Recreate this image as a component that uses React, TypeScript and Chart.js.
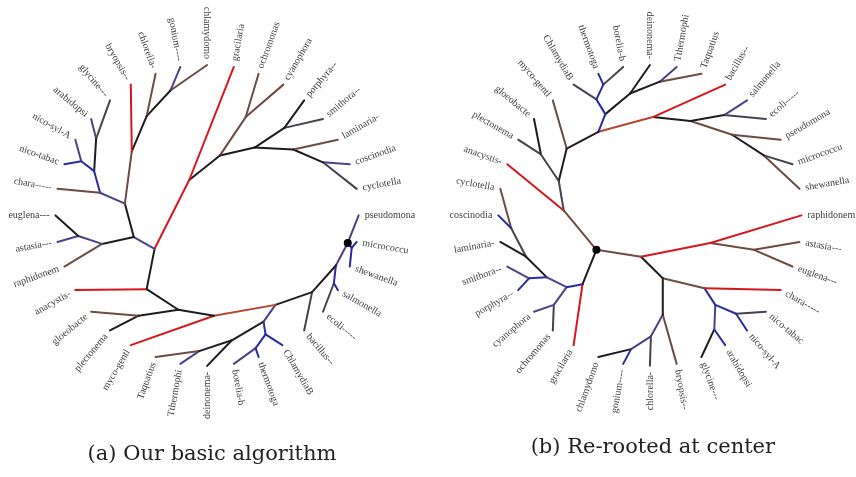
import React, { useEffect, useRef } from 'react';
import { Chart, registerables } from 'chart.js';
Chart.register(...registerables);

// ---------- Panel (a): leaves (label, x, y) in page units ----------
const centerA: [number, number] = [205, 215];
const leavesA: [string, number, number][] = [
  ['pseudomona', 358, 215], ['micrococcu', 356, 242], ['shewanella', 349, 267],
  ['salmonella', 337, 291], ['ecoli-----', 322, 313], ['bacillus--', 303, 332],
  ['ChlamydiaB', 281, 347], ['thermotoga', 257, 359], ['borelia-b', 232, 366],
  ['deinonema-', 205, 368], ['Tthermophi', 178, 366], ['Taquatius', 153, 359],
  ['myco-gentl', 128, 347], ['plectonema', 107, 332], ['gloeobacte', 88, 313],
  ['anacystis-', 72, 291], ['raphidonem', 61, 267], ['astasia---', 54, 242],
  ['euglena---', 52, 215], ['chara-----', 54, 188], ['nico-tabac', 61, 163],
  ['nico-syl-A', 72, 138], ['arabidopsi', 88, 117], ['glycine---', 107, 98],
  ['bryopsis--', 128, 82], ['chlorella-', 153, 71], ['gonium----', 178, 64],
  ['chlamydomo', 205, 62], ['gracilaria', 232, 64], ['ochromonas', 257, 71],
  ['cyanophora', 282, 82], ['porphyra--', 303, 98], ['smithora--', 322, 117],
  ['laminaria-', 337, 138], ['coscinodia', 349, 163], ['cyclotella', 356, 188],
];
const nodesA: Record<string, [number, number]> = {
  a1: [129, 150], a2: [144, 114], a3: [168, 88], a4: [122, 203], a5: [97, 192],
  a6: [91, 170], a7: [93, 137], a8: [78, 160], a9: [75, 236], a10: [99, 244],
  a11: [131, 237], a12: [152, 249], a13: [187, 179], a14: [218, 154], a15: [244, 115],
  a16: [253, 146], a17: [283, 126], a18: [292, 148], a19: [322, 161], a20: [144, 290],
  a21: [176, 311], a22: [136, 317], a23: [212, 317], a24: [274, 306], a25: [311, 293],
  a26: [335, 266], a27: [333, 284], a28: [347, 243], a29: [351, 248], a30: [262, 323],
  a31: [230, 342], a32: [197, 353], a33: [264, 336], a34: [254, 350],
};
const dotA = 'a28';
const edgesA: [string, string, string][] = [
  ['a1', 'bryopsis--', 'R'], ['a1', 'a4', 'Br'], ['a1', 'a2', 'K'], ['a2', 'chlorella-', 'Br'],
  ['a2', 'a3', 'K'], ['a3', 'gonium----', 'P'], ['a3', 'chlamydomo', 'Br'], ['a4', 'a5', 'P'],
  ['a4', 'a11', 'K'], ['a5', 'chara-----', 'Br'], ['a5', 'a6', 'U'], ['a6', 'a8', 'U'],
  ['a6', 'a7', 'K'], ['a7', 'arabidopsi', 'P'], ['a7', 'glycine---', 'G'], ['a8', 'nico-syl-A', 'P'],
  ['a8', 'nico-tabac', 'U'], ['a9', 'euglena---', 'K'], ['a9', 'astasia---', 'P'], ['a10', 'a9', 'P'],
  ['a10', 'raphidonem', 'Br'], ['a10', 'a11', 'K'], ['a11', 'a12', 'P'], ['a12', 'a13', 'R'],
  ['a13', 'gracilaria', 'R'], ['a13', 'a14', 'K'], ['a14', 'a15', 'Br'], ['a15', 'ochromonas', 'Br'],
  ['a15', 'cyanophora', 'Br'], ['a14', 'a16', 'K'], ['a16', 'a17', 'K'], ['a17', 'porphyra--', 'K'],
  ['a17', 'smithora--', 'G'], ['a16', 'a18', 'K'], ['a18', 'laminaria-', 'Br'], ['a18', 'a19', 'K'],
  ['a19', 'coscinodia', 'P'], ['a19', 'cyclotella', 'G'], ['a12', 'a20', 'K'], ['a20', 'anacystis-', 'R'],
  ['a20', 'a21', 'K'], ['a21', 'a22', 'K'], ['a22', 'gloeobacte', 'Br'], ['a22', 'plectonema', 'K'],
  ['a21', 'a23', 'K'], ['a23', 'myco-gentl', 'R'], ['a23', 'a24', 'RB'], ['a24', 'a25', 'K'],
  ['a25', 'bacillus--', 'G'], ['a25', 'a26', 'K'], ['a26', 'a27', 'U'], ['a27', 'salmonella', 'U'],
  ['a27', 'ecoli-----', 'G'], ['a26', 'a28', 'P'], ['a28', 'pseudomona', 'P'], ['a28', 'a29', 'U'],
  ['a29', 'micrococcu', 'U'], ['a29', 'shewanella', 'U'], ['a24', 'a30', 'P'], ['a30', 'a31', 'K'],
  ['a31', 'deinonema-', 'K'], ['a31', 'a32', 'K'], ['a32', 'Taquatius', 'Br'], ['a32', 'Tthermophi', 'P'],
  ['a30', 'a33', 'U'], ['a33', 'a34', 'U'], ['a33', 'ChlamydiaB', 'U'], ['a34', 'borelia-b', 'P'],
  ['a34', 'thermotoga', 'U'],
];

// ---------- Panel (b) ----------
const centerB: [number, number] = [652, 215];
const leavesB: [string, number, number][] = [
  ['raphidonem', 805, 215], ['astasia---', 803, 242], ['euglena---', 796, 267],
  ['chara-----', 784, 291], ['nico-tabac', 769, 313], ['nico-syl-A', 750, 332],
  ['arabidopsi', 728, 347], ['glycine---', 704, 359], ['bryopsis--', 679, 366],
  ['chlorella-', 652, 368], ['gonium----', 625, 366], ['chlamydomo', 600, 359],
  ['gracilaria', 575, 347], ['ochromonas', 554, 332], ['cyanophora', 535, 313],
  ['porphyra--', 519, 291], ['smithora--', 508, 267], ['laminaria-', 501, 242],
  ['coscinodia', 499, 215], ['cyclotella', 501, 188], ['anacystis-', 508, 163],
  ['plectonema', 519, 138], ['gloeobacte', 535, 117], ['myco-gentl', 554, 98],
  ['ChlamydiaB', 575, 82], ['thermotoga', 600, 71], ['borelia-b', 625, 64],
  ['deinonema-', 652, 62], ['Tthermophi', 679, 64], ['Taquatius', 704, 71],
  ['bacillus--', 728, 82], ['salmonella', 750, 98], ['ecoli-----', 769, 117],
  ['pseudomona', 784, 138], ['micrococcu', 796, 163], ['shewanella', 803, 188],
];
const nodesB: Record<string, [number, number]> = {
  b0: [598, 250], b1: [565, 210], b2: [643, 257], b3: [584, 285], b4: [713, 243],
  b5: [665, 279], b6: [757, 250], b7: [707, 289], b8: [665, 316], b9: [718, 306],
  b10: [717, 331], b11: [739, 315], b12: [653, 338], b13: [633, 351], b14: [568, 288],
  b15: [555, 306], b16: [548, 278], b17: [530, 279], b18: [527, 257], b19: [512, 228],
  b20: [560, 180], b21: [568, 147], b22: [542, 153], b23: [600, 130], b24: [655, 115],
  b25: [607, 112], b26: [598, 97], b27: [632, 91], b28: [605, 82], b29: [662, 79],
  b30: [693, 119], b31: [727, 113], b32: [735, 133], b33: [767, 154],
};
const dotB = 'b0';
const edgesB: [string, string, string][] = [
  ['b0', 'b1', 'Br'], ['b0', 'b2', 'Br'], ['b0', 'b3', 'K'], ['b2', 'b4', 'R'], ['b2', 'b5', 'K'],
  ['b4', 'raphidonem', 'R'], ['b4', 'b6', 'Br'], ['b6', 'astasia---', 'Br'], ['b6', 'euglena---', 'Br'],
  ['b5', 'b7', 'Br'], ['b5', 'b8', 'K'], ['b7', 'chara-----', 'R'], ['b7', 'b9', 'U'],
  ['b9', 'b10', 'P'], ['b9', 'b11', 'U'], ['b11', 'nico-tabac', 'G'], ['b11', 'nico-syl-A', 'U'],
  ['b10', 'arabidopsi', 'U'], ['b10', 'glycine---', 'K'], ['b8', 'bryopsis--', 'Br'], ['b8', 'b12', 'P'],
  ['b12', 'chlorella-', 'G'], ['b12', 'b13', 'P'], ['b13', 'gonium----', 'U'], ['b13', 'chlamydomo', 'K'],
  ['b3', 'gracilaria', 'R'], ['b3', 'b14', 'U'], ['b14', 'b15', 'P'], ['b14', 'b16', 'P'],
  ['b15', 'cyanophora', 'P'], ['b15', 'ochromonas', 'G'], ['b16', 'b17', 'U'], ['b16', 'b18', 'K'],
  ['b17', 'smithora--', 'P'], ['b17', 'porphyra--', 'U'], ['b18', 'laminaria-', 'K'], ['b18', 'b19', 'G'],
  ['b19', 'coscinodia', 'U'], ['b19', 'cyclotella', 'Br'], ['b1', 'anacystis-', 'R'], ['b1', 'b20', 'G'],
  ['b20', 'b21', 'K'], ['b20', 'b22', 'G'], ['b22', 'gloeobacte', 'K'], ['b22', 'plectonema', 'G'],
  ['b21', 'myco-gentl', 'Br'], ['b21', 'b23', 'K'], ['b23', 'b25', 'U'], ['b23', 'b24', 'RB'],
  ['b25', 'b26', 'U'], ['b25', 'b27', 'K'], ['b26', 'ChlamydiaB', 'G'], ['b26', 'b28', 'U'],
  ['b28', 'thermotoga', 'U'], ['b28', 'borelia-b', 'G'], ['b27', 'deinonema-', 'K'], ['b27', 'b29', 'K'],
  ['b29', 'Tthermophi', 'P'], ['b29', 'Taquatius', 'Br'], ['b24', 'bacillus--', 'R'], ['b24', 'b30', 'K'],
  ['b30', 'b31', 'K'], ['b30', 'b32', 'Br'], ['b31', 'salmonella', 'P'], ['b31', 'ecoli-----', 'G'],
  ['b32', 'pseudomona', 'Br'], ['b32', 'b33', 'K'], ['b33', 'micrococcu', 'G'], ['b33', 'shewanella', 'Br'],
];

const captions: [string, number, number][] = [
  ['(a) Our basic algorithm', 210, 464],
  ['(b) Re-rooted at center', 655, 457],
];

const palette: Record<string, string> = {
  R: '#d8161c', Br: '#6e4c42', K: '#1d1d1f', G: '#47434e', U: '#2b2ba0', P: '#4c4288', RB: '#b4472f',
};

type Panel = {
  center: [number, number];
  leaves: [string, number, number][];
  nodes: Record<string, [number, number]>;
  edges: [string, string, string][];
  dot: string;
};
const panels: Panel[] = [
  { center: centerA, leaves: leavesA, nodes: nodesA, edges: edgesA, dot: dotA },
  { center: centerB, leaves: leavesB, nodes: nodesB, edges: edgesB, dot: dotB },
];

function lookup(p: Panel, key: string): [number, number] {
  if (p.nodes[key]) return p.nodes[key];
  const l = p.leaves.find((q) => q[0] === key)!;
  return [l[1], l[2]];
}

const textPlugin = {
  id: 'treeText',
  afterDatasetsDraw(chart: any) {
    const { ctx, scales } = chart;
    const sx = scales.x, sy = scales.y;
    ctx.save();
    ctx.font = '10px "Liberation Serif"';
    ctx.fillStyle = '#3c3c3c';
    ctx.textBaseline = 'middle';
    for (const p of panels) {
      const cx = sx.getPixelForValue(p.center[0]);
      const cy = sy.getPixelForValue(p.center[1]);
      for (const [name, lx, ly] of p.leaves) {
        const px = sx.getPixelForValue(lx);
        const py = sy.getPixelForValue(ly);
        const ang = Math.atan2(py - cy, px - cx);
        const flip = Math.cos(ang) < 0.01;
        ctx.save();
        ctx.translate(px, py);
        ctx.rotate(flip ? ang + Math.PI : ang);
        ctx.textAlign = flip ? 'right' : 'left';
        ctx.fillText(name, flip ? -6 : 6, 0);
        ctx.restore();
      }
    }
    ctx.font = '21px "DejaVu Serif"';
    ctx.fillStyle = '#222';
    ctx.textAlign = 'center';
    ctx.textBaseline = 'alphabetic';
    for (const [t, x, y] of captions) {
      ctx.fillText(t, sx.getPixelForValue(x), sy.getPixelForValue(y));
    }
    ctx.restore();
  },
};

export default function App() {
  const ref = useRef<HTMLCanvasElement | null>(null);
  useEffect(() => {
    document.body.style.margin = '0';
    const datasets: any[] = [];
    datasets.push({
      data: panels.map((p) => { const d = lookup(p, p.dot); return { x: d[0], y: d[1] }; }),
      showLine: false,
      pointRadius: 4,
      pointBackgroundColor: '#000',
      pointBorderColor: '#000',
      pointBorderWidth: 0,
      order: -1,
    });
    for (const p of panels) {
      for (const [a, b, c] of p.edges) {
        const pa = lookup(p, a), pb = lookup(p, b);
        datasets.push({
          data: [{ x: pa[0], y: pa[1] }, { x: pb[0], y: pb[1] }],
          showLine: true,
          borderColor: palette[c],
          borderWidth: 2,
          borderCapStyle: 'round',
          pointRadius: 0,
          pointHoverRadius: 0,
          order: 1,
        });
      }
    }
    const chart = new Chart(ref.current!, {
      type: 'scatter',
      data: { datasets },
      options: {
        animation: false,
        responsive: false,
        events: [],
        layout: { padding: 0 },
        plugins: { legend: { display: false }, tooltip: { enabled: false } },
        scales: {
          x: { type: 'linear', min: 0, max: 856, display: false },
          y: { type: 'linear', min: 0, max: 477, reverse: true, display: false },
        },
      },
      plugins: [textPlugin],
    });
    return () => chart.destroy();
  }, []);
  return (
    <div style={{ width: 856, height: 477, background: '#fff' }}>
      <canvas ref={ref} width={856} height={477} style={{ display: 'block' }} />
    </div>
  );
}
